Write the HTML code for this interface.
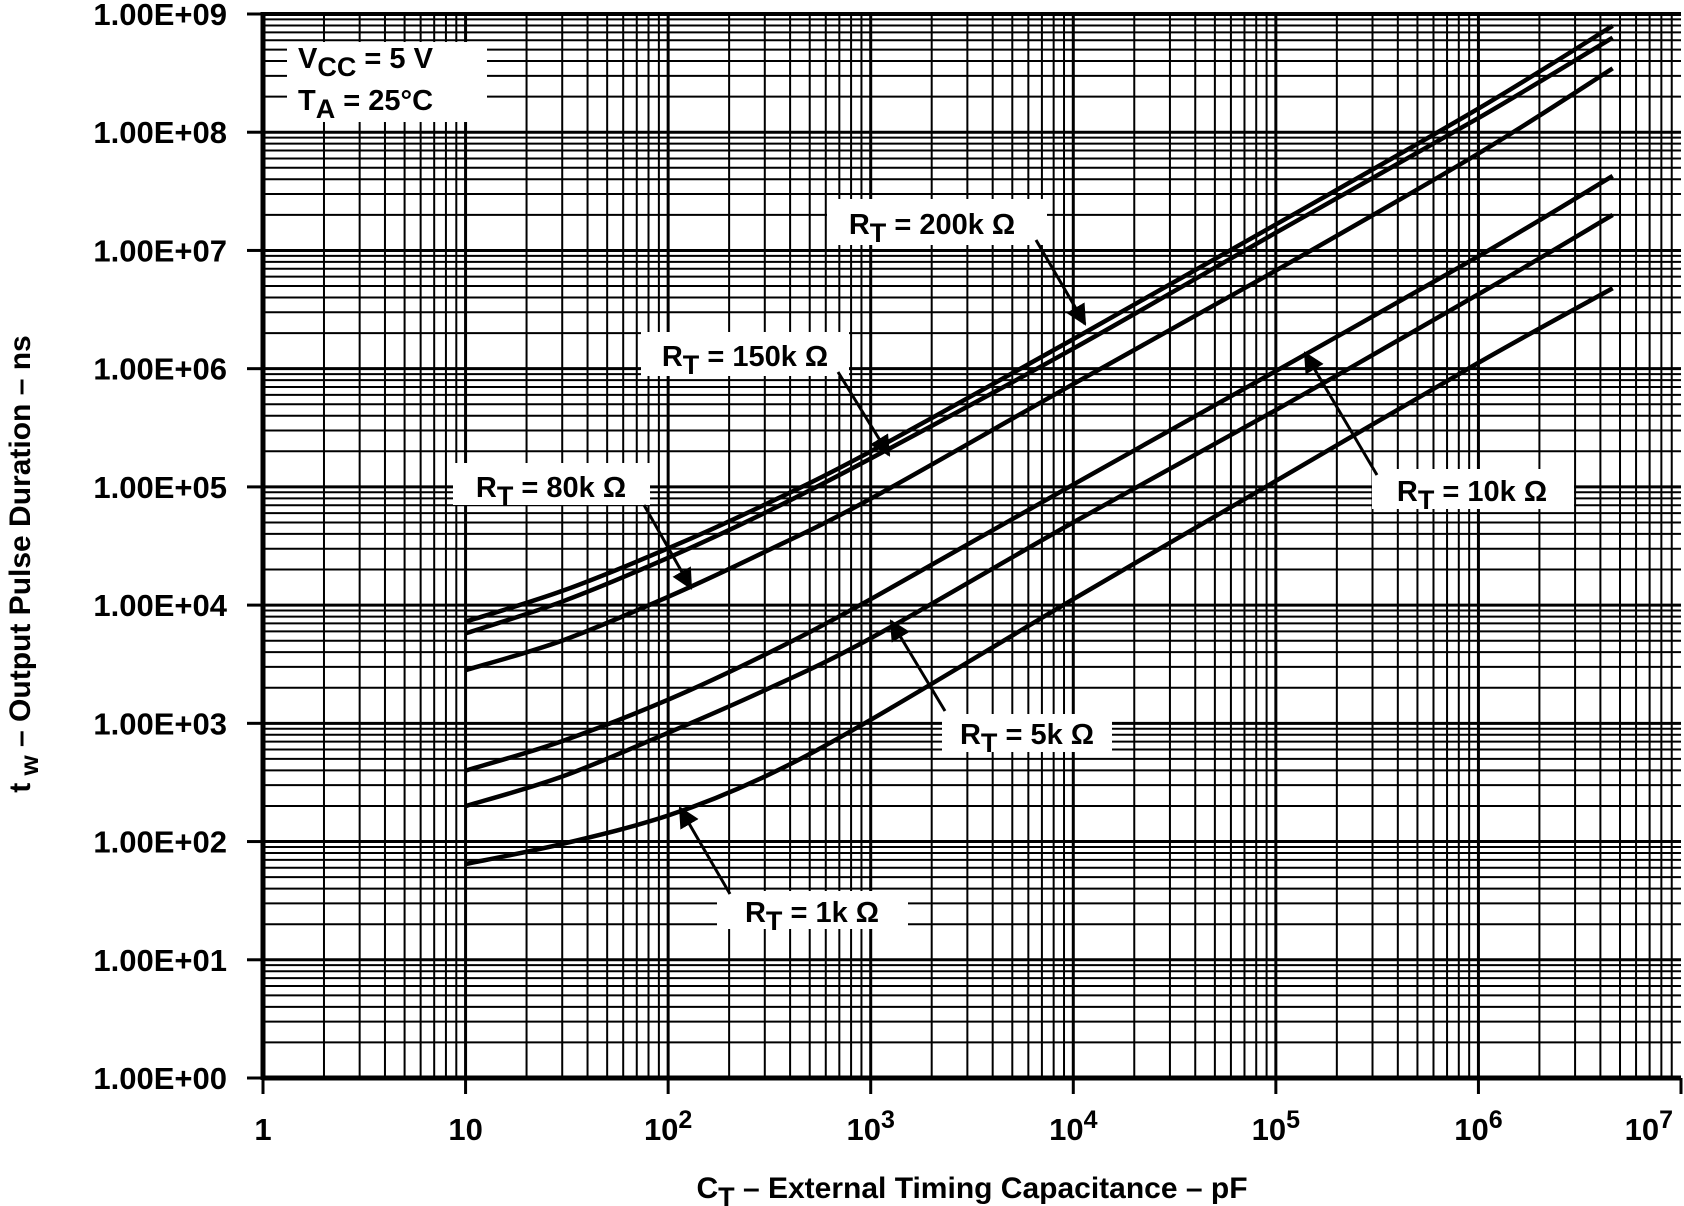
<!DOCTYPE html>
<html><head><meta charset="utf-8"><style>
html,body{margin:0;padding:0;background:#fff}
svg{display:block}
text{font-family:"Liberation Sans",sans-serif;font-weight:bold;fill:#000}
</style></head><body>
<svg id="chart" width="1684" height="1206" viewBox="0 0 1684 1206" xmlns="http://www.w3.org/2000/svg">
<defs><marker id="ah" viewBox="0 0 10 10" refX="9" refY="5" markerWidth="7" markerHeight="7" orient="auto"><path d="M0,0 L10,5 L0,10 z" fill="#000"/></marker></defs>
<g id="grid"></g>
<g id="curves"></g>
<g id="labels"></g>
</svg>
<script>
const xCats=[10,30,100,300,1e3,1e4,1e5,1e6,4.6e6];
const s200k=[3.86,4.12,4.48,4.85,5.30,6.25,7.22,8.20,8.90];
const s150k=[3.76,4.03,4.40,4.78,5.24,6.17,7.15,8.12,8.80];
const s80k=[3.45,3.70,4.07,4.45,4.90,5.87,6.83,7.82,8.54];
const s10k=[2.60,2.85,3.20,3.58,4.05,5.02,5.98,6.95,7.63];
const s5k=[2.30,2.55,2.92,3.28,3.72,4.70,5.65,6.63,7.30];
const s1k=[1.81,1.98,2.22,2.55,3.03,4.05,5.05,6.05,6.68];
const yTicks=["1.00E+00","1.00E+01","1.00E+02","1.00E+03","1.00E+04","1.00E+05","1.00E+06","1.00E+07","1.00E+08","1.00E+09"];
const xTicks=["1","10","10|2","10|3","10|4","10|5","10|6","10|7"];

const X0=263,X1=1681,Y0=1078,Y1=14;
const xs=lg=>X0+(X1-X0)*lg/7;
const ys=lg=>Y0-(Y0-Y1)*lg/9;
const NS="http://www.w3.org/2000/svg";
function mk(p,t,a){const e=document.createElementNS(NS,t);for(const k in a)e.setAttribute(k,a[k]);p.appendChild(e);return e;}
const grid=document.getElementById('grid'),cv=document.getElementById('curves'),lb=document.getElementById('labels');
for(let d=0;d<7;d++)for(let m=1;m<10;m++){const x=xs(d+Math.log10(m));
 const l=mk(grid,'line',{x1:x,x2:x,y1:Y1,y2:Y0,stroke:'#000','stroke-width':m==1?3:2});
 
 }
for(let d=0;d<9;d++)for(let m=1;m<10;m++){const y=ys(d+Math.log10(m));
 const l=mk(grid,'line',{x1:X0,x2:X1,y1:y,y2:y,stroke:'#000','stroke-width':m==1?3:2});
 
 }
mk(grid,'line',{x1:X0,x2:X0,y1:Y1-2,y2:Y0+2,stroke:'#000','stroke-width':5});
mk(grid,'line',{x1:X0,x2:X1,y1:Y0,y2:Y0,stroke:'#000','stroke-width':5});
mk(grid,'line',{x1:X0,x2:X1,y1:Y1,y2:Y1,stroke:'#000','stroke-width':4});
yTicks.forEach((t,i)=>{const y=ys(i);
 mk(grid,'line',{x1:X0-16,x2:X0,y1:y,y2:y,stroke:'#000','stroke-width':3});
 const e=mk(lb,'text',{x:X0-36,y:y+11,'text-anchor':'end','font-size':31});e.textContent=t;
 
 });
xTicks.forEach((t,i)=>{const x=xs(i);
 mk(grid,'line',{x1:x,x2:x,y1:Y0,y2:Y0+16,stroke:'#000','stroke-width':3});
 const last=i==xTicks.length-1;
 const e=mk(lb,'text',{x:last?x-8:x,y:1140,'text-anchor':last?'end':'middle','font-size':31});
 const p=t.split('|');
 if(p.length==1)e.textContent=p[0];else{const a=mk(e,'tspan',{});a.textContent=p[0];const b=mk(e,'tspan',{dy:-12,'font-size':25});b.textContent=p[1];}
 
 });
const series=[['curve-200k',s200k],['curve-150k',s150k],['curve-80k',s80k],['curve-10k',s10k],['curve-5k',s5k],['curve-1k',s1k]];
series.forEach(([n,v])=>{
 const pts=xCats.map((c,i)=>[xs(Math.log10(c)),ys(v[i])]);
 let d='M'+pts[0][0]+','+pts[0][1];
 for(let i=0;i<pts.length-1;i++){const p0=pts[Math.max(0,i-1)],p1=pts[i],p2=pts[i+1],p3=pts[Math.min(pts.length-1,i+2)];
  d+=` C${p1[0]+(p2[0]-p0[0])/6},${p1[1]+(p2[1]-p0[1])/6} ${p2[0]-(p3[0]-p1[0])/6},${p2[1]-(p3[1]-p1[1])/6} ${p2[0]},${p2[1]}`;}
 const e=mk(cv,'path',{d:d,fill:'none',stroke:'#000','stroke-width':4.5});
 
 });
const anns=[
 ['label-200k',827,199,220,46,'200k',932,234,[1036,240,1085,324]],
 ['label-150k',641,332,208,44,'150k',745,366,[838,372,889,455]],
 ['label-80k',453,463,197,42,'80k',551,497,[644,505,691,588]],
 ['label-10k',1372,469,202,40,'10k',1472,501,[1377,475,1305,353]],
 ['label-5k',942,714,170,38,'5k',1027,744,[945,711,891,621]],
 ['label-1k',717,891,191,38,'1k',812,922,[730,894,680,808]]];
anns.forEach(([n,x,y,w,h,v,tx,ty,a])=>{
 const g=mk(lb,'g',{});
 
 
 mk(g,'rect',{x:x,y:y,width:w,height:h,fill:'#fff'});
 const t=mk(g,'text',{x:tx,y:ty,'text-anchor':'middle','font-size':29});
 const a1=mk(t,'tspan',{});a1.textContent='R';
 const a2=mk(t,'tspan',{dy:8,'font-size':27});a2.textContent='T';
 const a3=mk(t,'tspan',{dy:-8});a3.textContent=' = '+v+' Ω';
 mk(g,'line',{x1:a[0],y1:a[1],x2:a[2],y2:a[3],stroke:'#000','stroke-width':3,'marker-end':'url(#ah)'});});
(function(){
const g=mk(lb,'g',{});


mk(g,'rect',{x:287,y:42,width:200,height:80,fill:'#fff'});
let t=mk(g,'text',{x:298,y:68,'font-size':29});
mk(t,'tspan',{}).textContent='V';mk(t,'tspan',{dy:8,'font-size':27}).textContent='CC';mk(t,'tspan',{dy:-8}).textContent=' = 5 V';
t=mk(g,'text',{x:298,y:110,'font-size':29});
mk(t,'tspan',{}).textContent='T';mk(t,'tspan',{dy:8,'font-size':27}).textContent='A';mk(t,'tspan',{dy:-8}).textContent=' = 25°C';
let x=mk(lb,'text',{x:972,y:1198,'text-anchor':'middle','font-size':30});


mk(x,'tspan',{}).textContent='C';mk(x,'tspan',{dy:8,'font-size':27}).textContent='T';mk(x,'tspan',{dy:-8}).textContent=' – External Timing Capacitance – pF';
let y=mk(lb,'text',{x:0,y:0,'text-anchor':'middle','font-size':30,transform:'translate(30,564) rotate(-90)'});


mk(y,'tspan',{}).textContent='t';mk(y,'tspan',{dy:8,'font-size':26}).textContent=' w';mk(y,'tspan',{dy:-8}).textContent=' – Output Pulse Duration – ns';
})();
</script>
</body></html>
